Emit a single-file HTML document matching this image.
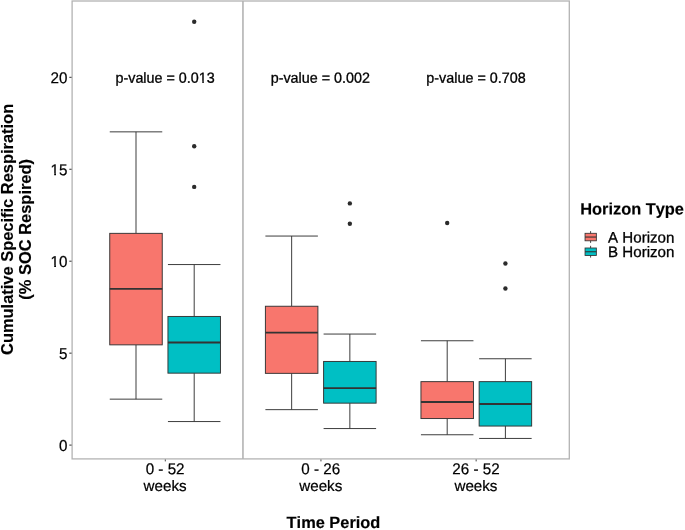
<!DOCTYPE html>
<html><head><meta charset="utf-8"><title>Boxplot</title>
<style>
html,body{margin:0;padding:0;background:#fff;}
svg{display:block;}
text{font-family:"Liberation Sans",Arial,Helvetica,sans-serif;fill:#000;font-kerning:none;stroke:#000;stroke-width:0.3px;}
.tick{font-size:15.2px;fill:#000;stroke-width:0.22px;}
.b{font-weight:bold;stroke-width:0.15px;}
</style></head><body>
<svg width="685" height="530" viewBox="0 0 685 530">
<rect x="0" y="0" width="685" height="530" fill="#ffffff"/>

<line x1="242.95" y1="1.0" x2="242.95" y2="458.9" stroke="#a8a8a8" stroke-width="1.4"/>
<line x1="136.00" y1="131.85" x2="136.00" y2="233.35" stroke="#333333" stroke-width="0.95"/>
<line x1="136.00" y1="344.85" x2="136.00" y2="399.15" stroke="#333333" stroke-width="0.95"/>
<line x1="109.75" y1="131.85" x2="162.25" y2="131.85" stroke="#333333" stroke-width="0.95"/>
<line x1="109.75" y1="399.15" x2="162.25" y2="399.15" stroke="#333333" stroke-width="0.95"/>
<rect x="109.75" y="233.35" width="52.50" height="111.50" fill="#F8766D" stroke="#333333" stroke-width="0.95"/>
<line x1="109.75" y1="288.85" x2="162.25" y2="288.85" stroke="#333333" stroke-width="1.9"/>
<circle cx="194.20" cy="21.7" r="2.2" fill="#2b2b2b"/>
<circle cx="194.20" cy="146.2" r="2.2" fill="#2b2b2b"/>
<circle cx="194.20" cy="186.9" r="2.2" fill="#2b2b2b"/>
<line x1="194.20" y1="264.55" x2="194.20" y2="316.45" stroke="#333333" stroke-width="0.95"/>
<line x1="194.20" y1="373.15" x2="194.20" y2="421.55" stroke="#333333" stroke-width="0.95"/>
<line x1="167.95" y1="264.55" x2="220.45" y2="264.55" stroke="#333333" stroke-width="0.95"/>
<line x1="167.95" y1="421.55" x2="220.45" y2="421.55" stroke="#333333" stroke-width="0.95"/>
<rect x="167.95" y="316.45" width="52.50" height="56.70" fill="#00BFC4" stroke="#333333" stroke-width="0.95"/>
<line x1="167.95" y1="342.55" x2="220.45" y2="342.55" stroke="#333333" stroke-width="1.9"/>
<line x1="291.65" y1="236.05" x2="291.65" y2="306.25" stroke="#333333" stroke-width="0.95"/>
<line x1="291.65" y1="373.35" x2="291.65" y2="409.65" stroke="#333333" stroke-width="0.95"/>
<line x1="265.40" y1="236.05" x2="317.90" y2="236.05" stroke="#333333" stroke-width="0.95"/>
<line x1="265.40" y1="409.65" x2="317.90" y2="409.65" stroke="#333333" stroke-width="0.95"/>
<rect x="265.40" y="306.25" width="52.50" height="67.10" fill="#F8766D" stroke="#333333" stroke-width="0.95"/>
<line x1="265.40" y1="332.65" x2="317.90" y2="332.65" stroke="#333333" stroke-width="1.9"/>
<circle cx="349.85" cy="203.4" r="2.2" fill="#2b2b2b"/>
<circle cx="349.85" cy="223.7" r="2.2" fill="#2b2b2b"/>
<line x1="349.85" y1="334.05" x2="349.85" y2="361.45" stroke="#333333" stroke-width="0.95"/>
<line x1="349.85" y1="403.15" x2="349.85" y2="428.55" stroke="#333333" stroke-width="0.95"/>
<line x1="323.60" y1="334.05" x2="376.10" y2="334.05" stroke="#333333" stroke-width="0.95"/>
<line x1="323.60" y1="428.55" x2="376.10" y2="428.55" stroke="#333333" stroke-width="0.95"/>
<rect x="323.60" y="361.45" width="52.50" height="41.70" fill="#00BFC4" stroke="#333333" stroke-width="0.95"/>
<line x1="323.60" y1="388.15" x2="376.10" y2="388.15" stroke="#333333" stroke-width="1.9"/>
<circle cx="447.20" cy="223.0" r="2.2" fill="#2b2b2b"/>
<line x1="447.20" y1="340.75" x2="447.20" y2="381.65" stroke="#333333" stroke-width="0.95"/>
<line x1="447.20" y1="418.55" x2="447.20" y2="434.75" stroke="#333333" stroke-width="0.95"/>
<line x1="420.95" y1="340.75" x2="473.45" y2="340.75" stroke="#333333" stroke-width="0.95"/>
<line x1="420.95" y1="434.75" x2="473.45" y2="434.75" stroke="#333333" stroke-width="0.95"/>
<rect x="420.95" y="381.65" width="52.50" height="36.90" fill="#F8766D" stroke="#333333" stroke-width="0.95"/>
<line x1="420.95" y1="401.95" x2="473.45" y2="401.95" stroke="#333333" stroke-width="1.9"/>
<circle cx="505.40" cy="263.5" r="2.2" fill="#2b2b2b"/>
<circle cx="505.40" cy="288.5" r="2.2" fill="#2b2b2b"/>
<line x1="505.40" y1="358.75" x2="505.40" y2="381.65" stroke="#333333" stroke-width="0.95"/>
<line x1="505.40" y1="426.05" x2="505.40" y2="438.45" stroke="#333333" stroke-width="0.95"/>
<line x1="479.15" y1="358.75" x2="531.65" y2="358.75" stroke="#333333" stroke-width="0.95"/>
<line x1="479.15" y1="438.45" x2="531.65" y2="438.45" stroke="#333333" stroke-width="0.95"/>
<rect x="479.15" y="381.65" width="52.50" height="44.40" fill="#00BFC4" stroke="#333333" stroke-width="0.95"/>
<line x1="479.15" y1="404.05" x2="531.65" y2="404.05" stroke="#333333" stroke-width="1.9"/>
<rect x="72.1" y="1.0" width="497.19999999999993" height="457.9" fill="none" stroke="#b3b3b3" stroke-width="1.3"/>
<line x1="69.3" y1="445.10" x2="71.6" y2="445.10" stroke="#333333" stroke-width="1"/>
<text class="tick" transform="translate(67.50,451.00) matrix(1,0.0005,0,1.04,0,0)" text-anchor="end">0</text>
<line x1="69.3" y1="353.15" x2="71.6" y2="353.15" stroke="#333333" stroke-width="1"/>
<text class="tick" transform="translate(67.50,359.05) matrix(1,0.0005,0,1.04,0,0)" text-anchor="end">5</text>
<line x1="69.3" y1="261.20" x2="71.6" y2="261.20" stroke="#333333" stroke-width="1"/>
<text class="tick" transform="translate(67.50,267.10) matrix(1,0.0005,0,1.04,0,0)" text-anchor="end">10</text><g transform="translate(67.50,267.10) matrix(1,0.0005,0,1.04,0,0)" fill="#fff" stroke="none"><rect x="-16.55" y="-2.04" width="3.24" height="2.84"/><rect x="-11.52" y="-2.04" width="3.13" height="2.84"/></g>
<line x1="69.3" y1="169.25" x2="71.6" y2="169.25" stroke="#333333" stroke-width="1"/>
<text class="tick" transform="translate(67.50,175.15) matrix(1,0.0005,0,1.04,0,0)" text-anchor="end">15</text><g transform="translate(67.50,175.15) matrix(1,0.0005,0,1.04,0,0)" fill="#fff" stroke="none"><rect x="-16.55" y="-2.04" width="3.24" height="2.84"/><rect x="-11.52" y="-2.04" width="3.13" height="2.84"/></g>
<line x1="69.3" y1="77.30" x2="71.6" y2="77.30" stroke="#333333" stroke-width="1"/>
<text class="tick" transform="translate(67.50,83.20) matrix(1,0.0005,0,1.04,0,0)" text-anchor="end">20</text>
<line x1="165.29999999999998" y1="459.5" x2="165.29999999999998" y2="461.4" stroke="#333333" stroke-width="0.9"/>
<text class="tick" transform="translate(165.10,474.30) matrix(1,0.0005,0,1.04,0,0)" text-anchor="middle">0 - 52</text>
<text class="tick" transform="translate(165.10,490.95) matrix(1,0.0005,0,1,0,0)" text-anchor="middle">weeks</text>
<line x1="320.95" y1="459.5" x2="320.95" y2="461.4" stroke="#333333" stroke-width="0.9"/>
<text class="tick" transform="translate(320.75,474.30) matrix(1,0.0005,0,1.04,0,0)" text-anchor="middle">0 - 26</text>
<text class="tick" transform="translate(320.75,490.95) matrix(1,0.0005,0,1,0,0)" text-anchor="middle">weeks</text>
<line x1="476.15" y1="459.5" x2="476.15" y2="461.4" stroke="#333333" stroke-width="0.9"/>
<text class="tick" transform="translate(475.95,474.30) matrix(1,0.0005,0,1.04,0,0)" text-anchor="middle">26 - 52</text>
<text class="tick" transform="translate(475.95,490.95) matrix(1,0.0005,0,1,0,0)" text-anchor="middle">weeks</text>
<text font-size="14.35" transform="translate(165.10,82.70) matrix(1,0.0005,0,1.02,0,0)" text-anchor="middle">p-value = 0.013</text><g transform="translate(165.10,82.70) matrix(1,0.0005,0,1.02,0,0)" fill="#fff" stroke="none"><rect x="34.00" y="-1.97" width="3.10" height="2.77"/><rect x="38.80" y="-1.97" width="2.98" height="2.77"/></g>
<text font-size="14.35" transform="translate(320.30,82.70) matrix(1,0.0005,0,1.02,0,0)" text-anchor="middle">p-value = 0.002</text>
<text font-size="14.35" transform="translate(476.00,82.70) matrix(1,0.0005,0,1.02,0,0)" text-anchor="middle">p-value = 0.708</text>
<text class="b" font-size="16.38" transform="translate(333.45,528.10) matrix(1,0.0005,0,1,0,0)" text-anchor="middle">Time Period</text>
<text class="b" transform="translate(13.25,229.4) rotate(-90)" text-anchor="middle" font-size="16.45">Cumulative Specific Respiration</text>
<text class="b" transform="translate(30.8,229.3) rotate(-90)" text-anchor="middle" font-size="16.45">(% SOC Respired)</text>
<text class="b" font-size="16.4" transform="translate(580.15,214.50) matrix(1,0.0005,0,1,0,0)" text-anchor="start">Horizon Type</text>
<line x1="590.6" y1="231.10" x2="590.6" y2="242.90" stroke="#333333" stroke-width="0.9"/>
<rect x="585.05" y="233.30" width="11.3" height="7.5" fill="#F8766D" stroke="#333333" stroke-width="0.85"/>
<line x1="585.05" y1="237.05" x2="596.35" y2="237.05" stroke="#333333" stroke-width="1.1"/>
<text font-size="15.1" transform="translate(608.10,242.60) matrix(1,0.0005,0,1,0,0)" text-anchor="start">A Horizon</text>
<line x1="590.6" y1="245.80" x2="590.6" y2="257.60" stroke="#333333" stroke-width="0.9"/>
<rect x="585.05" y="248.00" width="11.3" height="7.5" fill="#00BFC4" stroke="#333333" stroke-width="0.85"/>
<line x1="585.05" y1="251.75" x2="596.35" y2="251.75" stroke="#333333" stroke-width="1.1"/>
<text font-size="15.1" transform="translate(608.10,256.95) matrix(1,0.0005,0,1,0,0)" text-anchor="start">B Horizon</text>
</svg></body></html>
